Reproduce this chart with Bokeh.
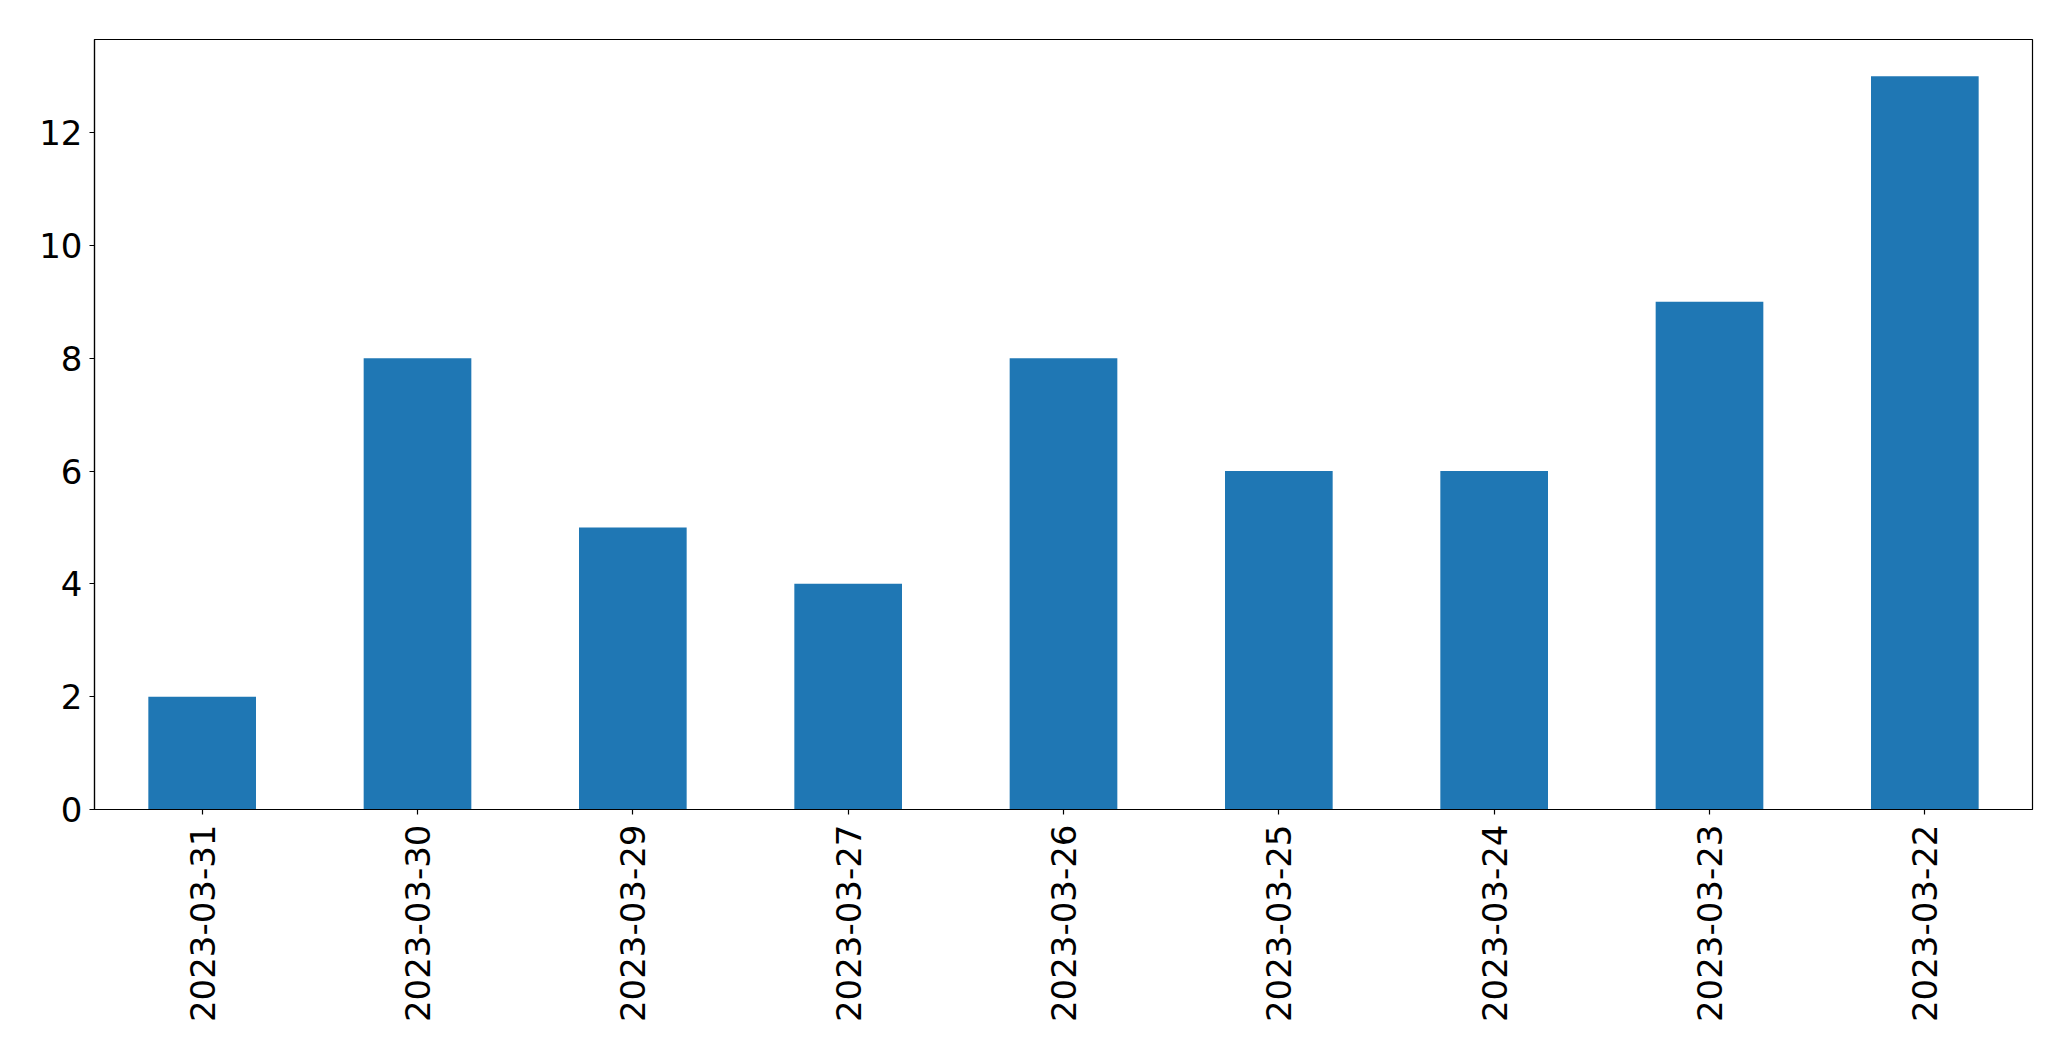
from bokeh.plotting import figure
from bokeh.models import Range1d, FactorRange, ColumnDataSource, FixedTicker
from bokeh.embed import file_html
from bokeh.resources import INLINE
import math

dates = ["2023-03-31", "2023-03-30", "2023-03-29", "2023-03-27", "2023-03-26",
         "2023-03-25", "2023-03-24", "2023-03-23", "2023-03-22"]
counts = [2, 8, 5, 4, 8, 6, 6, 9, 13]
y_ticks = [0, 2, 4, 6, 8, 10, 12]

src = ColumnDataSource(dict(x=dates, top=counts))

p = figure(width=2063, height=1045, x_range=FactorRange(*dates, range_padding=0),
           y_range=Range1d(0, 13.65), output_backend="svg", toolbar_location=None,
           min_border_left=94, min_border_top=39, min_border_right=31, min_border_bottom=236)

p.vbar(x="x", top="top", width=0.5, bottom=0, source=src, color="#1f77b4", line_color=None)

p.xgrid.visible = False
p.ygrid.visible = False
p.outline_line_color = "black"
p.outline_line_width = 1.2
p.outline_line_alpha = 1

p.yaxis.ticker = FixedTicker(ticks=y_ticks)
p.yaxis.minor_tick_line_color = None

for ax in (p.xaxis[0], p.yaxis[0]):
    ax.axis_line_color = "black"
    ax.axis_line_width = 1.2
    ax.major_tick_line_color = "black"
    ax.major_tick_line_width = 1.2
    ax.major_tick_out = 5
    ax.major_tick_in = 0
    ax.major_label_text_font = "DejaVu Sans"
    ax.major_label_text_font_size = "34px"
    ax.major_label_text_color = "black"

p.xaxis.major_label_orientation = math.pi / 2
p.xaxis.major_label_standoff = 10
p.yaxis.major_label_standoff = 7

open("out.html", "w").write(file_html(p, INLINE))
